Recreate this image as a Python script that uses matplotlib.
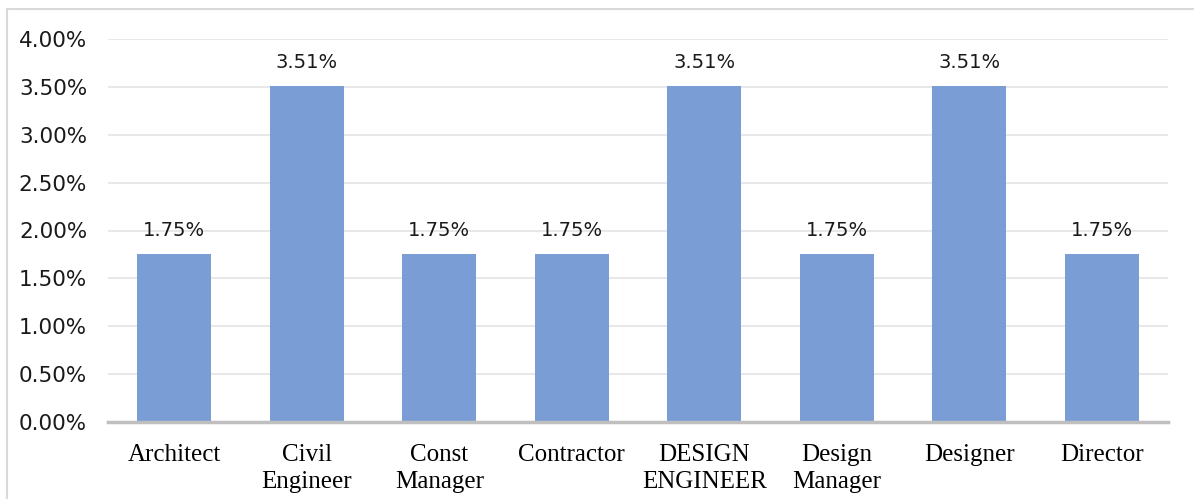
import matplotlib.pyplot as plt
from matplotlib.patches import Rectangle
from matplotlib.ticker import FuncFormatter

roles = ["Architect", "Civil\nEngineer", "Const\nManager", "Contractor",
         "DESIGN\nENGINEER", "Design\nManager", "Designer", "Director"]
shares = [1.75, 3.51, 1.75, 1.75, 3.51, 1.75, 3.51, 1.75]  # percent

fig = plt.figure(figsize=(11.94, 4.99), dpi=100)
fig.patches.append(Rectangle((7 / 1194, -0.01), 1.0, 1 - 9 / 499 + 0.01,
                             transform=fig.transFigure, fill=False,
                             edgecolor="#d9d9d9", linewidth=1.5))
ax = fig.add_axes([108 / 1194, 1 - 422 / 499, 1060 / 1194, 383 / 499])

x = range(len(roles))
ax.bar(x, shares, width=0.56, color="#7b9dd6", zorder=2)
for i, v in zip(x, shares):
    ax.text(i, v + 0.15, f"{v:.2f}%", ha="center", va="bottom",
            fontsize=14, family="DejaVu Sans", color="#1a1a1a")

ax.set_xlim(-0.5, len(roles) - 0.5)
ax.set_ylim(0, 4.0)
ax.set_yticks([i * 0.5 for i in range(9)])
ax.yaxis.set_major_formatter(FuncFormatter(lambda v, _: f"{v:.2f}%"))
ax.grid(axis="y", color="#e6e6e6", linewidth=1.3, zorder=0)
ax.set_xticks(list(x))
ax.set_xticklabels(roles, family="Liberation Serif", fontsize=18,
                   linespacing=1.27, va="top")
for lab in ax.get_yticklabels():
    lab.set_fontsize(15.5)
    lab.set_color("#1a1a1a")
ax.tick_params(axis="both", length=0)
ax.tick_params(axis="x", pad=16)
ax.tick_params(axis="y", pad=15)
for s in ["top", "right", "left"]:
    ax.spines[s].set_visible(False)
ax.spines["bottom"].set_color("#bfbfbf")
ax.spines["bottom"].set_linewidth(2.5)

fig.savefig("out.png", dpi=100)
